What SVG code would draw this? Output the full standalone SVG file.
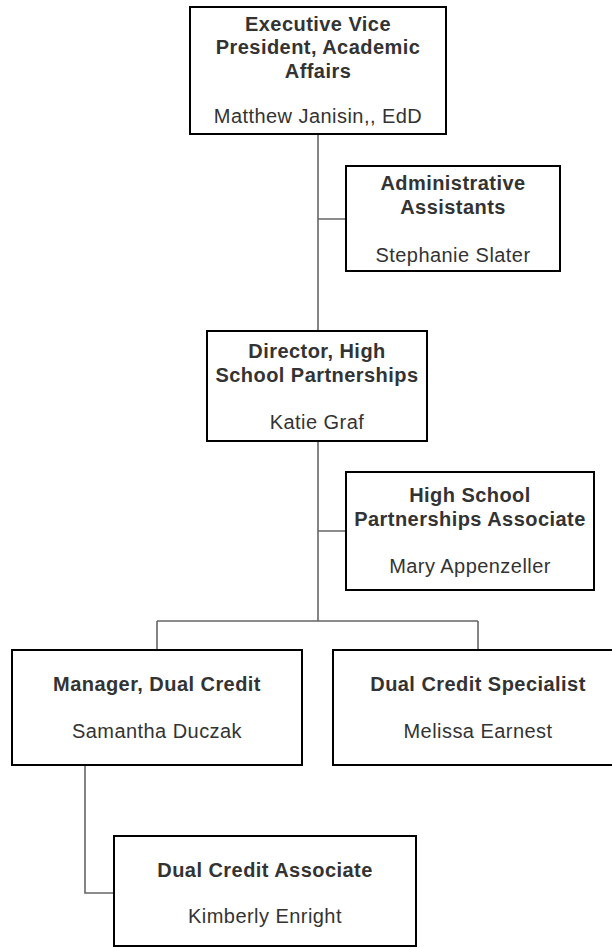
<svg xmlns="http://www.w3.org/2000/svg" width="612" height="948" viewBox="0 0 612 948">
<style>
.box{fill:#fff;stroke:#000;stroke-width:2}
.t{font-family:"Liberation Sans",Arial,sans-serif;font-size:20px;letter-spacing:0.45px;fill:#333;text-anchor:middle}
.b{font-weight:bold}
.c{fill:none;stroke:#666;stroke-width:1.6}
</style>
<rect width="612" height="948" fill="#fff"/>
<g id="connectors">
<path class="c" d="M318 134V331M318 219H346M318 441V621M318 531H346M157 621H478M157 621V650M478 621V650M85 765V893H114"/>
</g>
<g id="evp">
<rect class="box" x="190" y="7" width="256" height="127"/>
<text class="t b" x="318" y="31">Executive Vice</text>
<text class="t b" x="318" y="54">President, Academic</text>
<text class="t b" x="318" y="78">Affairs</text>
<text class="t" x="318" y="123">Matthew Janisin,, EdD</text>
</g>
<g id="admin">
<rect class="box" x="346" y="166" width="214" height="105"/>
<text class="t b" x="453" y="190">Administrative</text>
<text class="t b" x="453" y="214">Assistants</text>
<text class="t" x="453" y="262">Stephanie Slater</text>
</g>
<g id="director">
<rect class="box" x="207" y="331" width="220" height="110"/>
<text class="t b" x="317" y="358">Director, High</text>
<text class="t b" x="317" y="382">School Partnerships</text>
<text class="t" x="317" y="429">Katie Graf</text>
</g>
<g id="hsassoc">
<rect class="box" x="346" y="472" width="248" height="118"/>
<text class="t b" x="470" y="502">High School</text>
<text class="t b" x="470" y="526">Partnerships Associate</text>
<text class="t" x="470" y="573">Mary Appenzeller</text>
</g>
<g id="manager">
<rect class="box" x="12" y="650" width="290" height="115"/>
<text class="t b" x="157" y="691">Manager, Dual Credit</text>
<text class="t" x="157" y="738">Samantha Duczak</text>
</g>
<g id="specialist">
<rect class="box" x="333" y="650" width="290" height="115"/>
<text class="t b" x="478" y="691">Dual Credit Specialist</text>
<text class="t" x="478" y="738">Melissa Earnest</text>
</g>
<g id="associate">
<rect class="box" x="114" y="836" width="302" height="110"/>
<text class="t b" x="265" y="877">Dual Credit Associate</text>
<text class="t" x="265" y="923">Kimberly Enright</text>
</g>
</svg>
